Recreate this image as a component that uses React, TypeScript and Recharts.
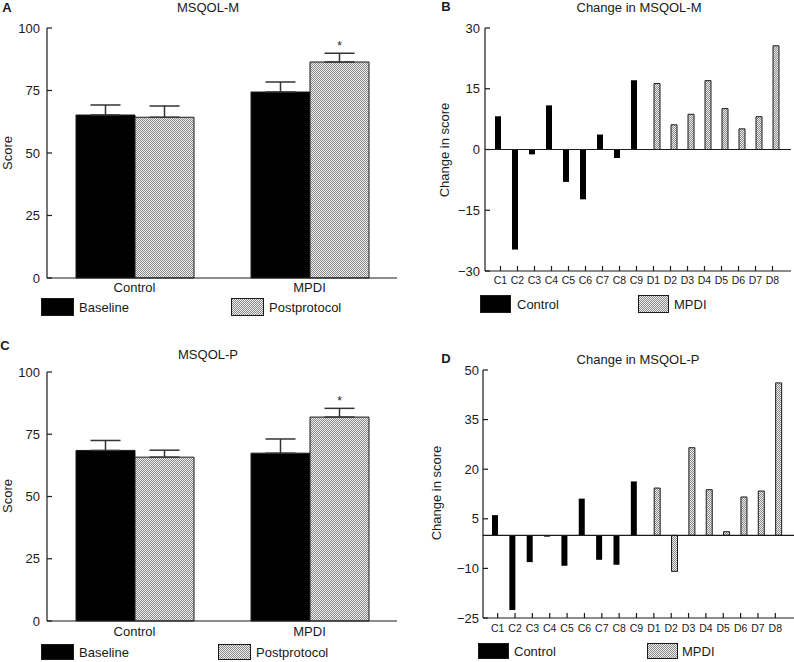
import React from 'react';
import { BarChart, Bar, XAxis, YAxis, ErrorBar, LabelList, ReferenceLine } from 'recharts';

// group means (panels A and C)
const groups = ['Control', 'MPDI'];
const mBaseline = [65.2, 74.4];
const mBaselineErr = [4.0, 4.0];
const mPost = [64.3, 86.4];
const mPostErr = [4.5, 3.5];
const pBaseline = [68.5, 67.4];
const pBaselineErr = [4.0, 5.7];
const pPost = [65.8, 81.9];
const pPostErr = [2.8, 3.5];
const sigMarks = ['', '*'];
const scoreTicks = [0, 25, 50, 75, 100];

// individual changes (panels B and D)
const subjects = ['C1', 'C2', 'C3', 'C4', 'C5', 'C6', 'C7', 'C8', 'C9', 'D1', 'D2', 'D3', 'D4', 'D5', 'D6', 'D7', 'D8'];
const changeM = [8.2, -24.7, -1.2, 10.9, -8.0, -12.3, 3.7, -2.1, 17.1, 16.3, 6.1, 8.7, 17.0, 10.1, 5.1, 8.1, 25.6];
const changeP = [6.1, -22.6, -8.1, -0.4, -9.2, 11.1, -7.4, -8.9, 16.3, 14.3, -10.9, 26.5, 13.8, 1.1, 11.6, 13.4, 46.1];
const changeMTicks = [-30, -15, 0, 15, 30];
const changePTicks = [-25, -10, 5, 20, 35, 50];

const FONT = '"Liberation Sans", Arial, Helvetica, sans-serif';
const INK = '#1a1a1a';
const HATCH = 'url(#checker)';

const scoreRows = (base: number[], baseErr: number[], post: number[], postErr: number[]) =>
  groups.map((g, i) => ({
    group: g,
    baseline: base[i],
    baselineErr: [0, baseErr[i]],
    post: post[i],
    postErr: [0, postErr[i]],
    sig: sigMarks[i],
  }));

const changeRows = (vals: number[]) =>
  subjects.map((s, i) => ({
    subject: s,
    control: s.startsWith('C') ? vals[i] : null,
    mpdi: s.startsWith('D') ? vals[i] : null,
  }));

const fmt = (v: number) => String(v).replace('-', '\u2212');

const makeYTick = (gap: number) => (p: any) => (
  <g>
    <line x1={p.x + gap} x2={p.x + gap + 5} y1={p.y} y2={p.y} stroke={INK} strokeWidth={1.2} />
    <text x={p.x} y={p.y} dy="0.35em" textAnchor="end" fontSize={13} fill={INK} fontFamily={FONT}>
      {fmt(p.payload.value)}
    </text>
  </g>
);

const makeXTick = (gap: number) => (p: any) => (
  <g>
    <line x1={p.x} x2={p.x} y1={p.y - gap} y2={p.y - gap - 5} stroke={INK} strokeWidth={1.2} />
    <text x={p.x} y={p.y} dy="0.71em" textAnchor="middle" fontSize={10.5} fill={INK} fontFamily={FONT}>
      {p.payload.value}
    </text>
  </g>
);

const Star = (p: any) =>
  p.value ? (
    <text x={p.x + p.width / 2} y={p.y - 12} textAnchor="middle" fontSize={12} fill={INK} fontFamily={FONT}>
      {p.value}
    </text>
  ) : null;

const Txt = ({ x, y, children, size = 13, bold = false, rotate = false, anchor = 'center' }: any) => (
  <div
    style={{
      position: 'absolute',
      left: x,
      top: y,
      fontSize: size,
      fontWeight: bold ? 700 : 400,
      fontFamily: FONT,
      color: INK,
      whiteSpace: 'nowrap',
      lineHeight: 1,
      transform:
        anchor === 'left'
          ? 'translate(0,-50%)'
          : rotate
          ? 'translate(-50%,-50%) rotate(-90deg)'
          : 'translate(-50%,-50%)',
    }}
  >
    {children}
  </div>
);

const Swatch = ({ x, y, w, h, fill }: any) => (
  <svg style={{ position: 'absolute', left: x, top: y }} width={w} height={h}>
    <rect x={0.5} y={0.5} width={w - 1} height={h - 1} fill={fill} stroke={INK} strokeWidth={1} />
  </svg>
);

const ScoreChart = ({ left, top, marginTop, xHeight, tickGap, rows }: any) => (
  <div style={{ position: 'absolute', left, top }}>
    <BarChart width={397} height={331} data={rows} margin={{ top: marginTop, right: 0, bottom: 0, left: 0 }} barGap={0} barSize={59}>
      <XAxis
        dataKey="group"
        height={xHeight}
        tickLine={false}
        tickSize={0}
        tickMargin={tickGap}
        stroke={INK}
        strokeWidth={1.2}
        tick={{ fontSize: 13, fill: INK, fontFamily: FONT }}
      />
      <YAxis
        width={47}
        domain={[0, 100]}
        ticks={scoreTicks}
        interval={0}
        tickLine={false}
        tickSize={0}
        tickMargin={7}
        stroke={INK}
        strokeWidth={1.2}
        tick={makeYTick(7)}
      />
      <Bar dataKey="baseline" fill="#000" stroke={INK} strokeWidth={1} isAnimationActive={false}>
        <ErrorBar dataKey="baselineErr" width={15} stroke="#333" strokeWidth={1.5} direction="y" />
      </Bar>
      <Bar dataKey="post" fill={HATCH} stroke={INK} strokeWidth={1} isAnimationActive={false}>
        <ErrorBar dataKey="postErr" width={15} stroke="#333" strokeWidth={1.5} direction="y" />
        <LabelList dataKey="sig" content={Star} />
      </Bar>
    </BarChart>
  </div>
);

const ChangeChart = ({ left, top, marginTop, marginRight, yWidth, xHeight, pad, domain, ticks, tickGap, yGap, rows }: any) => (
  <div style={{ position: 'absolute', left, top }}>
    <BarChart width={397} height={331} data={rows} margin={{ top: marginTop, right: marginRight, bottom: 0, left: 0 }} barGap={0} barSize={6}>
      <XAxis
        dataKey="subject"
        height={xHeight}
        interval={0}
        padding={pad}
        tickLine={false}
        tickSize={0}
        tickMargin={tickGap}
        stroke={INK}
        strokeWidth={1.2}
        tick={makeXTick(tickGap)}
      />
      <YAxis
        width={yWidth}
        domain={domain}
        ticks={ticks}
        interval={0}
        tickLine={false}
        tickSize={0}
        tickMargin={yGap}
        stroke={INK}
        strokeWidth={1.2}
        tick={makeYTick(yGap)}
      />
      <ReferenceLine y={0} stroke={INK} strokeWidth={1.2} />
      <Bar dataKey="control" fill="#000" isAnimationActive={false} />
      <Bar dataKey="mpdi" fill={HATCH} stroke={INK} strokeWidth={1} isAnimationActive={false} />
    </BarChart>
  </div>
);

export default function App() {
  return (
    <div style={{ position: 'absolute', left: 0, top: 0, width: 794, height: 662, background: '#fff', overflow: 'hidden' }}>
      <svg width={0} height={0} style={{ position: 'absolute' }}>
        <defs>
          <pattern id="checker" width={2} height={2} patternUnits="userSpaceOnUse">
            <rect width={2} height={2} fill="#eeeeee" />
            <rect width={1} height={1} fill="#8a8a8a" />
            <rect x={1} y={1} width={1} height={1} fill="#8a8a8a" />
          </pattern>
        </defs>
      </svg>

      {/* A */}
      <ScoreChart left={0} top={0} marginTop={28} xHeight={53} tickGap={5} rows={scoreRows(mBaseline, mBaselineErr, mPost, mPostErr)} />
      <Txt x={7} y={7} bold>A</Txt>
      <Txt x={208} y={7}>MSQOL-M</Txt>
      <Txt x={7} y={153} rotate>Score</Txt>
      <Swatch x={41} y={298} w={33} h={18} fill="#000" />
      <Txt x={79} y={307} anchor="left">Baseline</Txt>
      <Swatch x={231} y={298} w={33} h={18} fill={HATCH} />
      <Txt x={269} y={307} anchor="left">Postprotocol</Txt>

      {/* B */}
      <ChangeChart
        left={397}
        top={0}
        marginTop={28}
        marginRight={3}
        yWidth={88}
        xHeight={60}
        pad={{ left: 7, right: 10 }}
        domain={[-30, 30]}
        ticks={changeMTicks}
        tickGap={6}
        yGap={5}
        rows={changeRows(changeM)}
      />
      <Txt x={446} y={6} bold>B</Txt>
      <Txt x={639} y={7}>Change in MSQOL-M</Txt>
      <Txt x={444} y={150} rotate>Change in score</Txt>
      <Swatch x={480} y={295} w={31} h={18} fill="#000" />
      <Txt x={517} y={304} anchor="left">Control</Txt>
      <Swatch x={638} y={295} w={31} h={18} fill={HATCH} />
      <Txt x={674} y={304} anchor="left">MPDI</Txt>

      {/* C */}
      <ScoreChart left={0} top={331} marginTop={41} xHeight={41} tickGap={6} rows={scoreRows(pBaseline, pBaselineErr, pPost, pPostErr)} />
      <Txt x={5} y={345} bold>C</Txt>
      <Txt x={208} y={354}>MSQOL-P</Txt>
      <Txt x={7} y={496} rotate>Score</Txt>
      <Swatch x={41} y={644} w={33} h={16} fill="#000" />
      <Txt x={79} y={652} anchor="left">Baseline</Txt>
      <Swatch x={218} y={644} w={33} h={16} fill={HATCH} />
      <Txt x={256} y={652} anchor="left">Postprotocol</Txt>

      {/* D */}
      <ChangeChart
        left={397}
        top={331}
        marginTop={39}
        marginRight={0}
        yWidth={86}
        xHeight={44}
        pad={{ left: 6, right: 10 }}
        domain={[-25, 50]}
        ticks={changePTicks}
        tickGap={7}
        yGap={4}
        rows={changeRows(changeP)}
      />
      <Txt x={446} y={358} bold>D</Txt>
      <Txt x={638} y={359}>Change in MSQOL-P</Txt>
      <Txt x={436} y={493} rotate>Change in score</Txt>
      <Swatch x={478} y={643} w={31} h={16} fill="#000" />
      <Txt x={514} y={651} anchor="left">Control</Txt>
      <Swatch x={647} y={643} w={31} h={16} fill={HATCH} />
      <Txt x={682} y={651} anchor="left">MPDI</Txt>
    </div>
  );
}
